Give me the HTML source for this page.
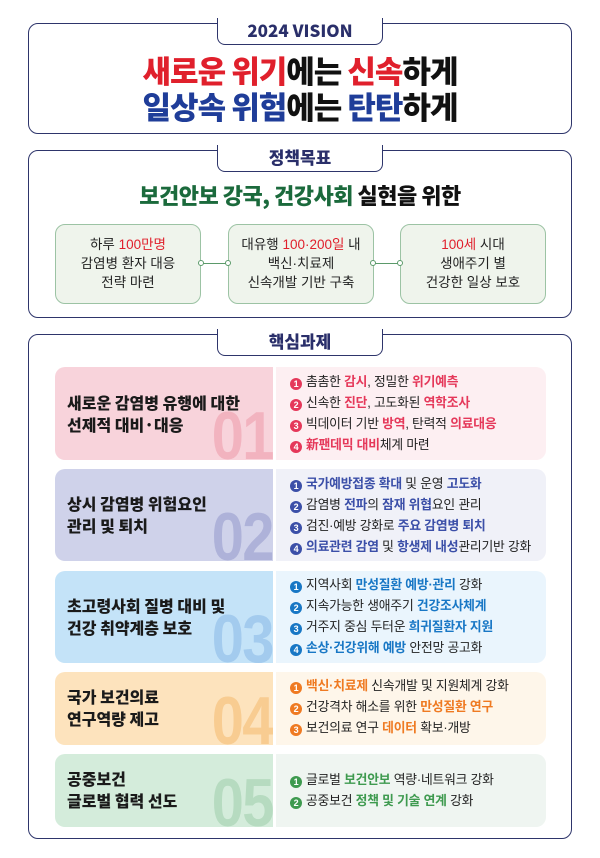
<!DOCTYPE html>
<html><head><meta charset="utf-8"><style>
*{margin:0;padding:0;box-sizing:border-box}
body{width:600px;height:858px;background:#fff;position:relative;font-family:"Liberation Sans","Noto Sans CJK KR",sans-serif;overflow:hidden;color:#222}
.box{position:absolute;left:28px;width:544px;border:1.5px solid #2e356b;border-radius:10px;background:#fff}
.tab{position:absolute;left:217px;width:166px;height:28px;border:1.5px solid #2e356b;border-top:none;border-radius:0 0 8px 8px;background:#fff;text-align:center;font-weight:900;color:#2a2f6a;font-size:17px;line-height:26px;font-family:"Noto Sans CJK KR",sans-serif}
.tab:before{content:"";position:absolute;left:-3px;right:-3px;top:-1px;height:2px;background:#fff}
.abs{position:absolute}
.c{text-align:center}
.r{color:#e0202c}.b{color:#1f3d99}.g{color:#1b6a3c}
.pol{position:absolute;top:224px;width:146px;height:80px;border:1.2px solid #9cc3a4;border-radius:10px;background:#eff4ec;text-align:center;font-size:13.5px;line-height:19px;padding-top:10px;color:#222}
.dot{position:absolute;top:260px;width:6px;height:6px;border:1.2px solid #5b9a6a;border-radius:50%;background:#fff}
.ln{position:absolute;top:263px;height:1.2px;background:#5b9a6a}
.L{position:absolute;left:55px;width:218px;border-radius:10px 0 0 10px;overflow:hidden}
.R{position:absolute;left:276px;width:270px;border-radius:0 10px 10px 0}
.t{position:absolute;left:12px;font-size:16px;font-weight:900;line-height:22px;color:#1a1a1a;font-family:"Noto Sans CJK KR",sans-serif}
.n{position:absolute;right:0;bottom:-10px;font-size:68px;font-weight:bold;letter-spacing:-2px;line-height:68px;font-family:"Liberation Sans",sans-serif;transform:scaleX(0.85);transform-origin:right bottom}
.it{position:absolute;left:14px;font-size:12.8px;line-height:21px;color:#222;white-space:nowrap;letter-spacing:-0.2px}
.it i{font-style:normal;display:inline-block;width:12px;height:12px;border-radius:50%;color:#fff;font-size:9px;line-height:12px;text-align:center;font-weight:bold;margin-right:4px;vertical-align:-1px}
.it b{font-weight:bold}
</style></head><body>

<div class="box" style="top:23px;height:111px"></div>
<div class="tab" style="top:17px">2024 VISION</div>
<div class="abs c" style="left:0;width:600px;top:52px;font-size:31px;font-weight:900;line-height:36px;color:#111;letter-spacing:-1px;font-family:'Noto Sans CJK KR',sans-serif">
<span class="r">새로운 위기</span>에는 <span class="r">신속</span>하게<br><span class="b">일상속 위험</span>에는 <span class="b">탄탄</span>하게</div>

<div class="box" style="top:150px;height:168px"></div>
<div class="tab" style="top:144px">정책목표</div>
<div class="abs c" style="left:0;width:600px;top:180px;font-size:22px;font-weight:900;line-height:30px;color:#111;letter-spacing:-0.5px;font-family:'Noto Sans CJK KR',sans-serif"><span class="g">보건안보 강국, 건강사회</span> 실현을 위한</div>
<div class="pol" style="left:55px">하루 <span class="r">100만명</span><br>감염병 환자 대응<br>전략 마련</div>
<div class="pol" style="left:228px">대유행 <span class="r">100·200일</span> 내<br>백신·치료제<br>신속개발 기반 구축</div>
<div class="pol" style="left:400px"><span class="r">100세</span> 시대<br>생애주기 별<br>건강한 일상 보호</div>
<div class="ln" style="left:203px;width:24px"></div><div class="dot" style="left:198px"></div><div class="dot" style="left:225px"></div>
<div class="ln" style="left:375px;width:24px"></div><div class="dot" style="left:370px"></div><div class="dot" style="left:397px"></div>

<div class="box" style="top:334px;height:505px"></div>
<div class="tab" style="top:328px">핵심과제</div>

<div class="L" style="top:367px;height:93px;background:#f8d3db"><div class="t" style="top:24px">새로운 감염병 유행에 대한<br>선제적 대비·대응</div><div class="n" style="color:#f2b3bf">01</div></div>
<div class="R" style="top:367px;height:93px;background:#fdeff2">
<div class="it" style="top:4px"><i style="background:#e5385a">1</i>촘촘한 <b style="color:#e5385a">감시</b>, 정밀한 <b style="color:#e5385a">위기예측</b></div>
<div class="it" style="top:25px"><i style="background:#e5385a">2</i>신속한 <b style="color:#e5385a">진단</b>, 고도화된 <b style="color:#e5385a">역학조사</b></div>
<div class="it" style="top:46px"><i style="background:#e5385a">3</i>빅데이터 기반 <b style="color:#e5385a">방역</b>, 탄력적 <b style="color:#e5385a">의료대응</b></div>
<div class="it" style="top:67px"><i style="background:#e5385a">4</i><b style="color:#e5385a">新팬데믹 대비</b>체계 마련</div></div>

<div class="L" style="top:469px;height:92px;background:#cfd2ea"><div class="t" style="top:23px">상시 감염병 위험요인<br>관리 및 퇴치</div><div class="n" style="color:#aeb2d9">02</div></div>
<div class="R" style="top:469px;height:92px;background:#f0f1f8">
<div class="it" style="top:4px"><i style="background:#3b4fa8">1</i><b style="color:#3b4fa8">국가예방접종 확대</b> 및 운영 <b style="color:#3b4fa8">고도화</b></div>
<div class="it" style="top:25px"><i style="background:#3b4fa8">2</i>감염병 <b style="color:#3b4fa8">전파</b>의 <b style="color:#3b4fa8">잠재 위협</b>요인 관리</div>
<div class="it" style="top:46px"><i style="background:#3b4fa8">3</i>검진·예방 강화로 <b style="color:#3b4fa8">주요 감염병 퇴치</b></div>
<div class="it" style="top:67px"><i style="background:#3b4fa8">4</i><b style="color:#3b4fa8">의료관련 감염</b> 및 <b style="color:#3b4fa8">항생제 내성</b>관리기반 강화</div></div>

<div class="L" style="top:571px;height:92px;background:#c4e3f8"><div class="t" style="top:23px">초고령사회 질병 대비 및<br>건강 취약계층 보호</div><div class="n" style="color:#a3cbee">03</div></div>
<div class="R" style="top:571px;height:92px;background:#eaf5fd">
<div class="it" style="top:3px"><i style="background:#1877c5">1</i>지역사회 <b style="color:#1877c5">만성질환 예방·관리</b> 강화</div>
<div class="it" style="top:24px"><i style="background:#1877c5">2</i>지속가능한 생애주기 <b style="color:#1877c5">건강조사체계</b></div>
<div class="it" style="top:45px"><i style="background:#1877c5">3</i>거주지 중심 두터운 <b style="color:#1877c5">희귀질환자 지원</b></div>
<div class="it" style="top:66px"><i style="background:#1877c5">4</i><b style="color:#1877c5">손상·건강위해 예방</b> 안전망 공고화</div></div>

<div class="L" style="top:672px;height:73px;background:#fde3bd"><div class="t" style="top:13px">국가 보건의료<br>연구역량 제고</div><div class="n" style="color:#f8cc91">04</div></div>
<div class="R" style="top:672px;height:73px;background:#fef6ea">
<div class="it" style="top:3px"><i style="background:#ef7a22">1</i><b style="color:#ef7a22">백신·치료제</b> 신속개발 및 지원체계 강화</div>
<div class="it" style="top:24px"><i style="background:#ef7a22">2</i>건강격차 해소를 위한 <b style="color:#ef7a22">만성질환 연구</b></div>
<div class="it" style="top:45px"><i style="background:#ef7a22">3</i>보건의료 연구 <b style="color:#ef7a22">데이터</b> 확보·개방</div></div>

<div class="L" style="top:754px;height:73px;background:#d4ecdb"><div class="t" style="top:13px">공중보건<br>글로벌 협력 선도</div><div class="n" style="color:#b6dbc0">05</div></div>
<div class="R" style="top:754px;height:73px;background:#eff5f1">
<div class="it" style="top:15px"><i style="background:#3e9a4f">1</i>글로벌 <b style="color:#3e9a4f">보건안보</b> 역량·네트워크 강화</div>
<div class="it" style="top:36px"><i style="background:#3e9a4f">2</i>공중보건 <b style="color:#3e9a4f">정책 및 기술 연계</b> 강화</div></div>

</body></html>
